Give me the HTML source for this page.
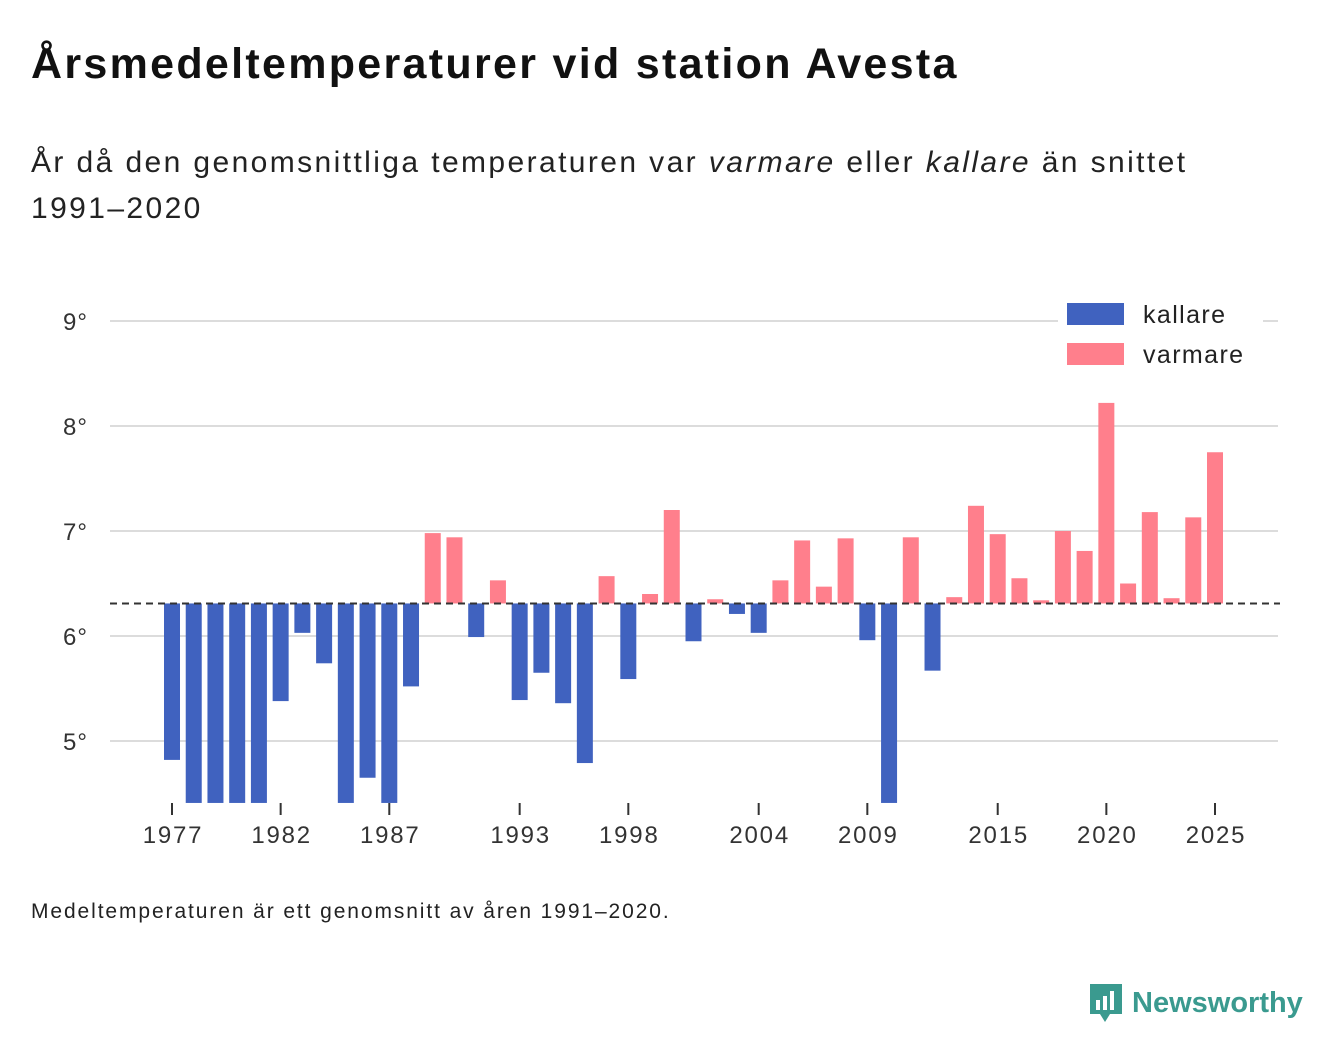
<!DOCTYPE html>
<html><head><meta charset="utf-8"><style>
body{margin:0;background:#fff;width:1340px;height:1056px;overflow:hidden;font-family:"Liberation Sans",sans-serif;color:#111}
h1{position:absolute;left:31px;top:40px;margin:0;font-size:43px;font-weight:bold;letter-spacing:2.3px}
.sub{position:absolute;left:31px;top:140px;font-size:30px;line-height:46px;color:#222;width:1280px;letter-spacing:2.4px}
.note{position:absolute;left:31px;top:900px;font-size:21px;color:#222;letter-spacing:1.9px}
.logo{position:absolute;left:1088px;top:982px;display:flex;align-items:center;gap:8px;color:#3a9a8f;font-weight:bold;font-size:29px}
</style></head><body>
<h1>Årsmedeltemperaturer vid station Avesta</h1>
<div class="sub">År då den genomsnittliga temperaturen var <i>varmare</i> eller <i>kallare</i> än snittet<br>1991–2020</div>
<svg id="chart" width="1340" height="1056" style="position:absolute;left:0;top:0"></svg>
<div class="note">Medeltemperaturen är ett genomsnitt av åren 1991–2020.</div>
<div class="logo"><svg width="36" height="42" viewBox="0 0 36 42"><path d="M2 2h32v30H22l-5 8-5-8H2z" fill="#3a9a8f"/><rect x="8" y="18" width="4" height="10" fill="#fff"/><rect x="15" y="14" width="4" height="14" fill="#fff"/><rect x="22" y="9" width="4" height="19" fill="#fff"/></svg><span>Newsworthy</span></div>
<script>
const years=[];for(let y=1977;y<=2025;y++)years.push(y);
const temps=[4.82,4.4,4.4,4.4,4.4,5.38,6.03,5.74,4.4,4.65,4.4,5.52,6.98,6.94,5.99,6.53,5.39,5.65,5.36,4.79,6.57,5.59,6.40,7.2,5.95,6.35,6.21,6.03,6.53,6.91,6.47,6.93,5.96,4.4,6.94,5.67,6.37,7.24,6.97,6.55,6.34,7.0,6.81,8.22,6.50,7.18,6.36,7.13,7.75];
const baseline=6.31;
const yTicks=[5,6,7,8,9];
const xTicks=[1977,1982,1987,1993,1998,2004,2009,2015,2020,2025];
const yMin=4.41;
const svg=document.getElementById('chart');const NS='http://www.w3.org/2000/svg';
const y=v=>636-(Math.max(v,yMin)-6)*105;
const x=yr=>172+(yr-1977)*(1043/48);
function el(t,a){const e=document.createElementNS(NS,t);for(const k in a)e.setAttribute(k,a[k]);svg.appendChild(e);return e;}
yTicks.forEach(t=>{const g=el('line',{x1:110,x2:1278,y1:y(t),y2:y(t),stroke:'#dcdcdc','stroke-width':2});

const l=el('text',{x:88,y:y(t)+9,'text-anchor':'end','font-size':24,fill:'#333','font-family':'Liberation Sans','letter-spacing':1});l.textContent=t+'°';
});
years.forEach((yr,i)=>{const v=temps[i];const top=Math.min(y(v),y(baseline)),h=Math.abs(y(v)-y(baseline));
const r=el('rect',{x:x(yr)-8,y:top,width:16,height:h,fill:v<baseline?'#4062bf':'#ff7f8c'});
});
const bl=el('line',{x1:110,x2:1280,y1:y(baseline),y2:y(baseline),stroke:'#333','stroke-width':2,'stroke-dasharray':'7,5'});

xTicks.forEach(t=>{const tk=el('line',{x1:x(t),x2:x(t),y1:803,y2:815,stroke:'#333','stroke-width':2});

const l=el('text',{x:x(t)+1,y:843,'text-anchor':'middle','font-size':24,fill:'#333','font-family':'Liberation Sans','letter-spacing':1.8});l.textContent=t;
});
const lb=el('rect',{x:1058,y:296,width:205,height:80,fill:'#fff'});
[['kallare','#4062bf',303],['varmare','#ff7f8c',343]].forEach(([n,c,yy])=>{
const r=el('rect',{x:1067,y:yy,width:57,height:22,fill:c});
const t=el('text',{x:1143,y:yy+20,'font-size':25,fill:'#222','font-family':'Liberation Sans','letter-spacing':1.4});t.textContent=n;
});
</script>
</body></html>
